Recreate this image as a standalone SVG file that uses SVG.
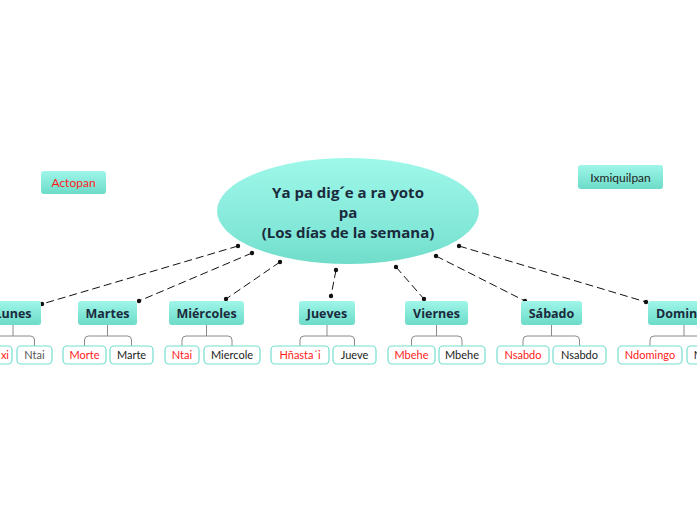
<svg xmlns="http://www.w3.org/2000/svg" width="697" height="520" viewBox="0 0 697 520">
<defs>
<linearGradient id="gE" x1="0" y1="0" x2="0" y2="1">
<stop offset="0" stop-color="#9ff8ea"/>
<stop offset="0.75" stop-color="#7fe6d6"/>
<stop offset="1" stop-color="#6fdcc9"/>
</linearGradient>
<linearGradient id="gB" x1="0" y1="0" x2="0" y2="1">
<stop offset="0" stop-color="#9ff6e9"/>
<stop offset="1" stop-color="#6cdbc8"/>
</linearGradient>
<marker id="dot" markerWidth="6" markerHeight="6" refX="3" refY="3" markerUnits="userSpaceOnUse">
<circle cx="3" cy="3" r="2.2" fill="#111"/>
</marker>
</defs>
<style>
.day{fill:url(#gB);}
.dt{font-family:"Open Sans","Liberation Sans",sans-serif;font-weight:bold;font-size:12.5px;fill:#1b2a3d;text-anchor:middle;}
.sub{fill:#fff;stroke:#73dfcf;stroke-width:1.2;}
.st{font-family:Lato,"Liberation Sans",sans-serif;font-size:11px;text-anchor:middle;}
.red{fill:#ff1a1a;}
.blk{fill:#222;}
.br{fill:none;stroke:#8a8a8a;stroke-width:1;}
.con{fill:none;stroke:#111;stroke-width:1;stroke-dasharray:8 4;marker-start:url(#dot);marker-end:url(#dot);}
.mt{font-family:"Open Sans","Liberation Sans",sans-serif;font-weight:bold;font-size:15px;fill:#1b2a3d;text-anchor:middle;}
</style>
<rect width="697" height="520" fill="#fff"/>
<g id="connectors">
<path class="con" d="M238 246 L42 304"/>
<path class="con" d="M252 253 L139 301"/>
<path class="con" d="M280 262 L226 299"/>
<path class="con" d="M336 270 L331 296"/>
<path class="con" d="M396 267 L424 299"/>
<path class="con" d="M436 256 L525 301"/>
<path class="con" d="M459 246 L646 302"/>
</g>
<g id="central">
<ellipse cx="348" cy="211" rx="131" ry="53" fill="url(#gE)"/>
<text class="mt" x="348" y="198">Ya pa dig´e a ra yoto</text>
<text class="mt" x="348" y="218">pa</text>
<text class="mt" x="348" y="238">(Los días de la semana)</text>
</g>
<g id="actopan">
<rect class="day" x="41" y="171" width="65" height="23" rx="3"/>
<text class="st red" x="73.5" y="187" style="font-size:12px">Actopan</text>
</g>
<g id="ixmiquilpan">
<rect class="day" x="578" y="165" width="85" height="24" rx="3"/>
<text class="st blk" x="620.5" y="181.5" style="font-size:12px">Ixmiquilpan</text>
</g>
<g id="lunes">
<rect class="day" x="-15" y="301" width="56" height="24" rx="3"/>
<text class="dt" x="13" y="317.5">Lunes</text>
<path class="br" d="M13 325 V336 M-8.5 346 V340 Q-8.5 336 -4.5 336 H30.5 Q34.5 336 34.5 340 V346"/>
<rect class="sub" x="-29" y="346" width="41" height="18" rx="4"/>
<text class="st red" x="9" y="359" style="text-anchor:end">xi</text>
<rect class="sub" x="17" y="346" width="35" height="18" rx="4"/>
<text class="st" x="34.5" y="359" fill="#555">Ntai</text>
</g>
<g id="martes">
<rect class="day" x="78" y="301" width="59" height="24" rx="3"/>
<text class="dt" x="107.5" y="317.5">Martes</text>
<path class="br" d="M107.5 325 V336 M84.5 346 V340 Q84.5 336 88.5 336 H127.5 Q131.5 336 131.5 340 V346"/>
<rect class="sub" x="63" y="346" width="43" height="18" rx="4"/>
<text class="st red" x="84.5" y="359">Morte</text>
<rect class="sub" x="110" y="346" width="43" height="18" rx="4"/>
<text class="st blk" x="131.5" y="359">Marte</text>
</g>
<g id="miercoles">
<rect class="day" x="169" y="301" width="75" height="24" rx="3"/>
<text class="dt" x="206.5" y="317.5">Miércoles</text>
<path class="br" d="M206.5 325 V336 M182 346 V340 Q182 336 186 336 H228 Q232 336 232 340 V346"/>
<rect class="sub" x="165" y="346" width="34" height="18" rx="4"/>
<text class="st red" x="182" y="359">Ntai</text>
<rect class="sub" x="204" y="346" width="56" height="18" rx="4"/>
<text class="st blk" x="232" y="359">Miercole</text>
</g>
<g id="jueves">
<rect class="day" x="299" y="301" width="56" height="24" rx="3"/>
<text class="dt" x="327" y="317.5">Jueves</text>
<path class="br" d="M327 325 V336 M300 346 V340 Q300 336 304 336 H350.5 Q354.5 336 354.5 340 V346"/>
<rect class="sub" x="271" y="346" width="58" height="18" rx="4"/>
<text class="st red" x="300" y="359">Hñasta´i</text>
<rect class="sub" x="333" y="346" width="43" height="18" rx="4"/>
<text class="st blk" x="354.5" y="359">Jueve</text>
</g>
<g id="viernes">
<rect class="day" x="405" y="301" width="63" height="24" rx="3"/>
<text class="dt" x="436.5" y="317.5">Viernes</text>
<path class="br" d="M436.5 325 V336 M411.5 346 V340 Q411.5 336 415.5 336 H458 Q462 336 462 340 V346"/>
<rect class="sub" x="388" y="346" width="47" height="18" rx="4"/>
<text class="st red" x="411.5" y="359">Mbehe</text>
<rect class="sub" x="439" y="346" width="46" height="18" rx="4"/>
<text class="st blk" x="462" y="359">Mbehe</text>
</g>
<g id="sabado">
<rect class="day" x="521" y="301" width="61" height="24" rx="3"/>
<text class="dt" x="551.5" y="317.5">Sábado</text>
<path class="br" d="M551.5 325 V336 M523 346 V340 Q523 336 527 336 H575.5 Q579.5 336 579.5 340 V346"/>
<rect class="sub" x="497" y="346" width="52" height="18" rx="4"/>
<text class="st red" x="523" y="359">Nsabdo</text>
<rect class="sub" x="553" y="346" width="53" height="18" rx="4"/>
<text class="st blk" x="579.5" y="359">Nsabdo</text>
</g>
<g id="domingo">
<rect class="day" x="648" y="301" width="72" height="24" rx="3"/>
<text class="dt" x="684" y="317.5">Domingo</text>
<path class="br" d="M684 325 V336 M650 346 V340 Q650 336 654 336 H715 Q719 336 719 340 V346"/>
<rect class="sub" x="618" y="346" width="64" height="18" rx="4"/>
<text class="st red" x="650" y="359">Ndomingo</text>
<rect class="sub" x="687" y="346" width="64" height="18" rx="4"/>
<text class="st blk" x="719" y="359">Ndomingo</text>
</g>
</svg>
